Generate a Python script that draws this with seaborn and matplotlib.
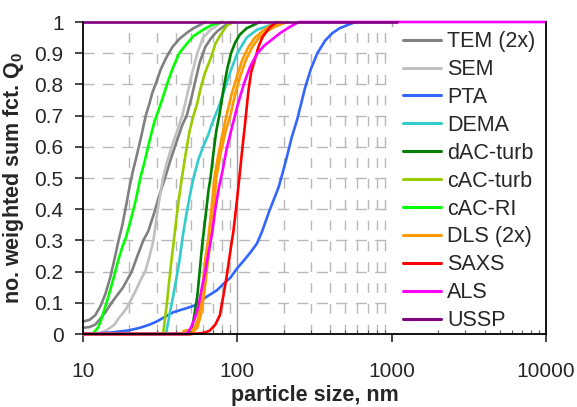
import pandas as pd
import numpy as np
import seaborn as sns
import matplotlib.pyplot as plt
from matplotlib.patches import Rectangle
from matplotlib.ticker import LogLocator, FixedLocator, NullFormatter

# -------------------------------------------------
# data (size in nm, cumulative Q0)
# -------------------------------------------------
tem1_x = [10, 11, 12, 13, 14, 15, 16, 17, 18, 19, 20, 21, 22, 23, 24, 25.5, 27, 28, 30, 32, 35, 38, 42, 47, 52, 57, 62]
tem1_q = [0.04, 0.045, 0.06, 0.09, 0.13, 0.18, 0.24, 0.3, 0.35, 0.41, 0.47, 0.52, 0.56, 0.6, 0.64, 0.7, 0.74, 0.77, 0.81, 0.85, 0.89, 0.92, 0.945, 0.965, 0.98, 0.99, 1.0]

tem2_x = [10, 11, 12, 13, 14, 15.3, 17, 18.2, 20.7, 22.5, 24.6, 26.5, 29, 31, 34, 37, 40, 44, 47, 50, 54, 57, 62, 68, 74, 81, 90]
tem2_q = [0.02, 0.022, 0.03, 0.05, 0.07, 0.1, 0.13, 0.15, 0.2, 0.25, 0.3, 0.33, 0.39, 0.44, 0.5, 0.56, 0.61, 0.67, 0.7, 0.75, 0.82, 0.87, 0.92, 0.95, 0.97, 0.985, 1.0]

sem_x = [10, 12.5, 14, 15, 16, 17, 18, 19, 20, 22, 24, 25.3, 27, 28.6, 30.5, 33, 35, 37.5, 42, 44, 47, 50, 55, 60, 67, 80]
sem_q = [0, 0, 0.01, 0.02, 0.03, 0.05, 0.065, 0.08, 0.1, 0.14, 0.18, 0.2, 0.25, 0.3, 0.4, 0.5, 0.55, 0.6, 0.67, 0.7, 0.76, 0.82, 0.9, 0.95, 0.975, 1.0]

pta_x = [10, 12, 15.5, 20, 23.4, 27, 30, 34, 38.6, 45, 52, 63.5, 73.7, 81, 90, 99.5, 110, 121, 134, 145, 160, 172, 185, 200, 210, 225, 245, 275, 300, 330, 370, 412, 460, 516, 583]
pta_q = [0, 0.002, 0.005, 0.012, 0.02, 0.03, 0.04, 0.055, 0.07, 0.08, 0.09, 0.12, 0.14, 0.16, 0.18, 0.21, 0.235, 0.26, 0.29, 0.33, 0.39, 0.43, 0.47, 0.53, 0.57, 0.63, 0.69, 0.79, 0.85, 0.9, 0.94, 0.964, 0.98, 0.99, 1.0]

dema_x = [10, 34.5, 36, 38, 40, 42, 44.5, 47, 50, 52, 56, 60, 65, 68, 76, 81, 90, 100, 115, 134, 164, 190]
dema_q = [0, 0, 0.05, 0.11, 0.17, 0.23, 0.32, 0.39, 0.46, 0.5, 0.56, 0.6, 0.64, 0.67, 0.73, 0.77, 0.84, 0.9, 0.95, 0.975, 0.99, 1.0]

dac_x = [10, 49, 51, 53, 55, 57, 59, 61, 63, 65, 67, 70, 73, 77, 81, 86, 91, 97, 104, 115, 127, 140]
dac_q = [0, 0, 0.02, 0.07, 0.12, 0.2, 0.28, 0.34, 0.4, 0.46, 0.5, 0.58, 0.65, 0.71, 0.78, 0.85, 0.9, 0.935, 0.96, 0.98, 0.99, 1.0]

cac_turb_x = [10, 33, 34, 35, 36, 37.5, 39, 40.5, 42, 43.7, 46, 49, 52, 55, 58, 62, 68, 72, 78, 86, 95]
cac_turb_q = [0, 0, 0.05, 0.1, 0.16, 0.24, 0.31, 0.38, 0.44, 0.5, 0.57, 0.65, 0.7, 0.74, 0.79, 0.84, 0.89, 0.93, 0.96, 0.99, 1.0]

cac_ri_x = [10, 11.5, 12.5, 13, 14, 15, 16, 17, 18, 19, 20, 21, 22, 23.5, 25, 27, 29, 31, 33, 35, 38, 42, 47, 52, 60, 68, 80]
cac_ri_q = [0, 0, 0.02, 0.04, 0.09, 0.14, 0.19, 0.24, 0.28, 0.31, 0.35, 0.39, 0.43, 0.5, 0.55, 0.62, 0.68, 0.72, 0.76, 0.8, 0.85, 0.9, 0.93, 0.955, 0.975, 0.99, 1.0]

dls1_x = [10, 44, 45, 52, 55, 57, 60, 62, 65, 68, 71, 75, 80, 85, 92, 100, 108, 118, 130, 145, 160, 190]
dls1_q = [0, 0, 0.01, 0.015, 0.04, 0.08, 0.17, 0.24, 0.31, 0.4, 0.5, 0.57, 0.64, 0.7, 0.77, 0.83, 0.88, 0.92, 0.95, 0.97, 0.985, 1.0]

dls2_x = [10, 50, 55, 58, 61, 64, 67, 70, 73, 78, 84, 90, 97, 105, 114, 125, 138, 155, 175, 210]
dls2_q = [0, 0, 0.02, 0.06, 0.13, 0.22, 0.3, 0.38, 0.5, 0.58, 0.65, 0.7, 0.77, 0.83, 0.88, 0.92, 0.95, 0.97, 0.985, 1.0]

saxs_x = [10, 50, 60, 66, 72, 77, 81, 85, 88, 91, 94.5, 99, 103, 107, 112, 118, 123, 130, 137, 145, 155, 164, 180]
saxs_q = [0, 0, 0.003, 0.01, 0.03, 0.06, 0.12, 0.18, 0.23, 0.28, 0.333, 0.42, 0.5, 0.58, 0.67, 0.78, 0.84, 0.88, 0.92, 0.95, 0.97, 0.985, 1.0]

als_x = [10, 47, 50, 53, 56, 59, 62, 65, 68.5, 72, 76, 80, 85, 92, 100, 110, 121, 135, 150, 164, 190, 220, 250, 10000]
als_q = [0, 0, 0.02, 0.05, 0.09, 0.15, 0.2, 0.26, 0.32, 0.4, 0.47, 0.52, 0.59, 0.66, 0.73, 0.8, 0.857, 0.9, 0.925, 0.94, 0.965, 0.985, 1.0, 1.0]

ussp_x = [10, 1090]
ussp_q = [1.0, 1.0]

methods = ["TEM (2x)", "SEM", "PTA", "DEMA", "dAC-turb", "cAC-turb", "cAC-RI", "DLS (2x)", "SAXS", "ALS", "USSP"]
colors = ["#808080", "#C0C0C0", "#3366FF", "#33CCCC", "#008000", "#99CC00", "#00FF00", "#FF9900", "#FF0000", "#FF00FF", "#800080"]

series = [
    ("TEM (2x)", 1, tem1_x, tem1_q),
    ("TEM (2x)", 2, tem2_x, tem2_q),
    ("SEM", 1, sem_x, sem_q),
    ("PTA", 1, pta_x, pta_q),
    ("DEMA", 1, dema_x, dema_q),
    ("dAC-turb", 1, dac_x, dac_q),
    ("cAC-turb", 1, cac_turb_x, cac_turb_q),
    ("cAC-RI", 1, cac_ri_x, cac_ri_q),
    ("DLS (2x)", 1, dls1_x, dls1_q),
    ("DLS (2x)", 2, dls2_x, dls2_q),
    ("SAXS", 1, saxs_x, saxs_q),
    ("ALS", 1, als_x, als_q),
    ("USSP", 1, ussp_x, ussp_q),
]

rows = []
for name, run, xs, qs in series:
    for i, (x, q) in enumerate(zip(xs, qs)):
        rows.append({"method": name, "run": run, "order": i, "size": x, "q": q})
df = pd.DataFrame(rows)

# -------------------------------------------------
# plot
# -------------------------------------------------
sns.set_style("white")
plt.rcParams["font.family"] = ["Liberation Sans", "DejaVu Sans"]
plt.rcParams["mathtext.fontset"] = "custom"
plt.rcParams["mathtext.rm"] = "Liberation Sans"
plt.rcParams["mathtext.bf"] = "Liberation Sans:bold"

fig = plt.figure(figsize=(5.77, 4.07), dpi=100)
ax = fig.add_axes([83 / 577, 1 - 334 / 407, 463 / 577, 312 / 407])

sns.lineplot(data=df, x="size", y="q", hue="method", units="run", estimator=None,
             sort=False, hue_order=methods, palette=dict(zip(methods, colors)),
             linewidth=1.9, ax=ax)

for line in ax.get_lines():
    line.set_clip_on(False)
    line.set_solid_joinstyle("round")

ax.set_xscale("log")
ax.set_xlim(10, 10000)
ax.set_ylim(0, 1)

# grid
ax.set_yticks(np.arange(0, 1.01, 0.1))
ax.set_yticklabels(["0", "0.1", "0.2", "0.3", "0.4", "0.5", "0.6", "0.7", "0.8", "0.9", "1"])
ax.xaxis.set_major_locator(FixedLocator([10, 100, 1000, 10000]))
ax.set_xticklabels(["10", "100", "1000", "10000"])
ax.xaxis.set_minor_locator(LogLocator(base=10, subs=np.arange(2, 10)))
ax.xaxis.set_minor_formatter(NullFormatter())

for y in np.arange(0.1, 1.0, 0.1):
    ax.axhline(y, color="#b8b8b8", lw=1.0, ls=(0, (8, 6)), zorder=0)
for dec in [10, 100, 1000]:
    for m in range(2, 10):
        ax.axvline(dec * m, color="#b8b8b8", lw=1.0, ls=(0, (7, 8)), zorder=0)
for x in [100, 1000]:
    ax.axvline(x, color="#a0a0a0", lw=1.0, zorder=0)

# white area behind the legend (hides the grid only)
ax.add_patch(Rectangle((0.657, 0.0), 0.336, 0.985, transform=ax.transAxes,
                       facecolor="white", edgecolor="none", zorder=0.5))

for s in ["left", "bottom", "right"]:
    ax.spines[s].set_color("black")
    ax.spines[s].set_linewidth(1.3)
ax.spines["top"].set_visible(False)

ax.tick_params(axis="y", which="major", direction="out", length=6, width=1.2,
               left=True, labelsize=15, pad=8)
ax.tick_params(axis="x", which="major", direction="out", length=6, width=1.2,
               bottom=True, labelsize=15, pad=14)
ax.tick_params(axis="x", which="minor", direction="in", length=3, width=0.8,
               bottom=True, color="#555555")

ax.set_xlabel("particle size, nm", fontsize=15.5, fontweight="bold", labelpad=3)
ax.set_ylabel(r"no. weighted sum fct. Q$_\mathbf{0}$", fontsize=15.5, fontweight="bold", labelpad=6)

handles, labels = ax.get_legend_handles_labels()
leg = ax.legend(handles, labels, loc="center left", bbox_to_anchor=(0.668, 0.49),
                frameon=False, fontsize=15.5, handlelength=1.75, handletextpad=0.3,
                labelspacing=0.32, borderpad=0.5, borderaxespad=0)
for h in leg.get_lines():
    h.set_linewidth(2.2)

fig.savefig("out.png", dpi=100)
